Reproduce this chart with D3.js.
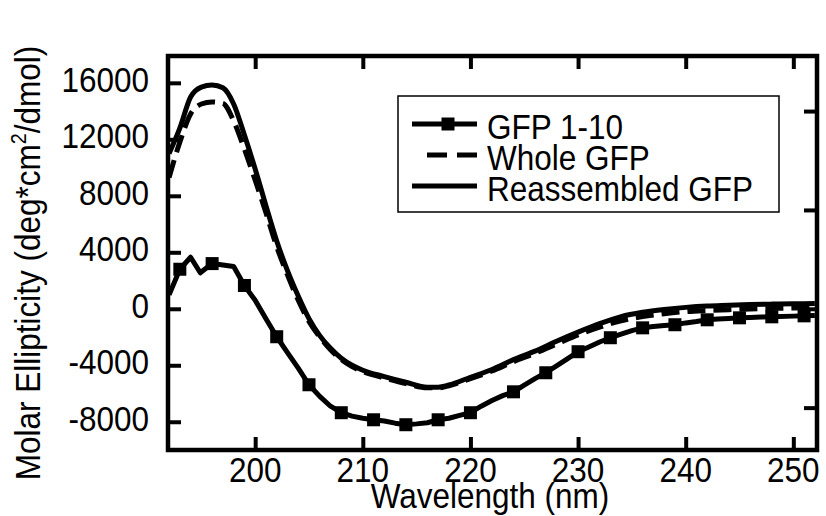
<!DOCTYPE html>
<html>
<head>
<meta charset="utf-8">
<script src="https://cdn.jsdelivr.net/npm/d3@7"></script>
<style>
  body { margin: 0; background: #fff; }
  text { font-family: "Liberation Sans", Arial, sans-serif; fill: #000; }
</style>
</head>
<body>
<div id="chart"></div>
<script>
// wavelength grid shared by the two smooth spectra (nm)
var wl = [192,193,194,195,196,197,198,199,200,201,202,203,204,205,206,207,208,209,210,212,214,216,217,218,220,222,224,226,228,230,232,234,236,238,240,242,244,246,248,250,252];
var reassembled = [11000,12800,15000,15700,15850,15650,14500,12300,9900,7300,4800,2700,900,-700,-1900,-2800,-3500,-4000,-4350,-4800,-5200,-5550,-5550,-5400,-4850,-4300,-3600,-3000,-2300,-1650,-1050,-550,-250,-50,100,200,250,300,330,350,370];
var whole = [9300,11800,13800,14500,14650,14550,13300,11300,9100,6800,4400,2400,600,-900,-2000,-2900,-3600,-4100,-4450,-4900,-5300,-5600,-5600,-5450,-4950,-4400,-3750,-3150,-2500,-1850,-1300,-850,-550,-350,-200,-120,-60,-20,20,50,70];

// GFP 1-10 spectrum
var gfpWl = [192,193,194,194.9,196,197,198,199,200,201,202,203,204,205,206,207,208,209,210,211,212,213,214,215,216,217,218,219,220,221,222,223,224,225,226,227,228,229,230,231,232,233,234,235,236,237,238,239,240,241,242,243,244,245,246,247,248,250,251,252];
var gfp110 = [990,2800,3650,2550,3200,3100,3000,1650,600,-700,-1980,-3100,-4200,-5380,-6200,-6900,-7360,-7600,-7750,-7860,-7950,-8100,-8210,-8150,-8070,-7860,-7750,-7550,-7360,-6900,-6500,-6150,-5880,-5400,-4950,-4530,-4050,-3550,-3040,-2700,-2350,-2050,-1800,-1550,-1350,-1250,-1180,-1130,-1000,-900,-780,-720,-680,-640,-610,-590,-570,-520,-500,-470];
var gfpMarkers = [193,196,199,202,205,208,211,214,217,220,224,227,230,233,236,239,242,245,248,251];

var xTicks = [200,210,220,230,240,250];
var yTicks = [-8000,-4000,0,4000,8000,12000,16000];
var yTicksRight = [-7000,0,7000,14000];
var seriesNames = ["GFP 1-10", "Whole GFP", "Reassembled GFP"];

var W = 826, H = 516;
var pL = 168, pR = 817, pT = 56, pB = 450;
var fs = 35, squash = 0.9;

var svg = d3.select("#chart").append("svg")
  .attr("width", W).attr("height", H);

var x = d3.scaleLinear().domain([191.9, 252.2]).range([pL, pR]);
var y = d3.scaleLinear().domain([-10000, 17900]).range([pB, pT]);

svg.append("clipPath").attr("id", "plotclip")
  .append("rect").attr("x", pL).attr("y", pT)
  .attr("width", pR - pL).attr("height", pB - pT);

var plot = svg.append("g").attr("clip-path", "url(#plotclip)");

var smooth = d3.line()
  .x(function(d) { return x(d[0]); })
  .y(function(d) { return y(d[1]); })
  .curve(d3.curveMonotoneX);
var straight = d3.line()
  .x(function(d) { return x(d[0]); })
  .y(function(d) { return y(d[1]); });

plot.append("path")
  .datum(wl.map(function(w, i) { return [w, reassembled[i]]; }))
  .attr("d", smooth).attr("fill", "none").attr("stroke", "#000")
  .attr("stroke-width", 5).attr("stroke-linejoin", "round");

plot.append("path")
  .datum(wl.map(function(w, i) { return [w, whole[i]]; }))
  .attr("d", smooth).attr("fill", "none").attr("stroke", "#000")
  .attr("stroke-width", 5).attr("stroke-dasharray", "18,8");

var gfpPts = gfpWl.map(function(w, i) { return [w, gfp110[i]]; });
plot.append("path")
  .datum(gfpPts)
  .attr("d", straight).attr("fill", "none").attr("stroke", "#000")
  .attr("stroke-width", 5).attr("stroke-linejoin", "round");

var ms = 13;
plot.selectAll("rect.mk")
  .data(gfpMarkers.map(function(w) { return [w, gfp110[gfpWl.indexOf(w)]]; }))
  .enter().append("rect").attr("class", "mk")
  .attr("x", function(d) { return x(d[0]) - ms / 2; })
  .attr("y", function(d) { return y(d[1]) - ms / 2; })
  .attr("width", ms).attr("height", ms).attr("fill", "#000");

// inward ticks on all four sides
function tickStyle(g) {
  g.select(".domain").remove();
  g.selectAll("line").attr("stroke", "#000").attr("stroke-width", 4);
  g.selectAll("text").remove();
}
svg.append("g").attr("transform", "translate(" + pL + ",0)")
  .call(d3.axisLeft(y).tickValues(yTicks).tickSize(-13)).call(tickStyle);
svg.append("g").attr("transform", "translate(" + pR + ",0)")
  .call(d3.axisRight(y).tickValues(yTicksRight).tickSize(-13)).call(tickStyle);
svg.append("g").attr("transform", "translate(0," + pB + ")")
  .call(d3.axisBottom(x).tickValues(xTicks).tickSize(-13)).call(tickStyle);
svg.append("g").attr("transform", "translate(0," + pT + ")")
  .call(d3.axisTop(x).tickValues(xTicks).tickSize(-13)).call(tickStyle);

svg.append("rect")
  .attr("x", pL).attr("y", pT)
  .attr("width", pR - pL).attr("height", pB - pT)
  .attr("fill", "none").attr("stroke", "#000").attr("stroke-width", 4.5);

// tick labels
svg.selectAll("text.yl").data(yTicks).enter().append("text")
  .attr("class", "yl").attr("text-anchor", "end").attr("font-size", fs)
  .attr("transform", function(d) { return "translate(149," + (y(d) + 9) + ") scale(" + squash + ",1)"; })
  .text(function(d) { return d; });

svg.selectAll("text.xl").data(xTicks).enter().append("text")
  .attr("class", "xl").attr("text-anchor", "middle").attr("font-size", fs)
  .attr("transform", function(d) { return "translate(" + x(d) + ",482) scale(" + squash + ",1)"; })
  .text(function(d) { return d; });

// axis titles
svg.append("text").attr("text-anchor", "middle").attr("font-size", fs)
  .attr("transform", "translate(490,508) scale(" + squash + ",1)")
  .text("Wavelength (nm)");

var yt = svg.append("text").attr("text-anchor", "middle").attr("font-size", fs)
  .attr("transform", "translate(40,263) rotate(-90) scale(" + squash + ",1)");
yt.append("tspan").text("Molar Ellipticity (deg*cm");
yt.append("tspan").attr("font-size", 22).attr("dy", -14).text("2");
yt.append("tspan").attr("dy", 14).text("/dmol)");

// legend
var lg = svg.append("g");
lg.append("rect").attr("x", 398).attr("y", 96).attr("width", 381).attr("height", 116)
  .attr("fill", "#fff").attr("stroke", "#000").attr("stroke-width", 1.5);
var rowsY = [124, 155, 186];
lg.append("line").attr("x1", 412).attr("x2", 477).attr("y1", rowsY[0]).attr("y2", rowsY[0])
  .attr("stroke", "#000").attr("stroke-width", 5);
lg.append("rect").attr("x", 448 - ms / 2).attr("y", rowsY[0] - ms / 2)
  .attr("width", ms).attr("height", ms).attr("fill", "#000");
lg.append("line").attr("x1", 427).attr("x2", 477).attr("y1", rowsY[1]).attr("y2", rowsY[1])
  .attr("stroke", "#000").attr("stroke-width", 5).attr("stroke-dasharray", "20,10");
lg.append("line").attr("x1", 412).attr("x2", 477).attr("y1", rowsY[2]).attr("y2", rowsY[2])
  .attr("stroke", "#000").attr("stroke-width", 5);
lg.selectAll("text").data(seriesNames).enter().append("text")
  .attr("font-size", fs)
  .attr("transform", function(d, i) { return "translate(487," + (rowsY[i] + 15) + ") scale(" + squash + ",1)"; })
  .text(function(d) { return d; });
</script>
</body>
</html>
